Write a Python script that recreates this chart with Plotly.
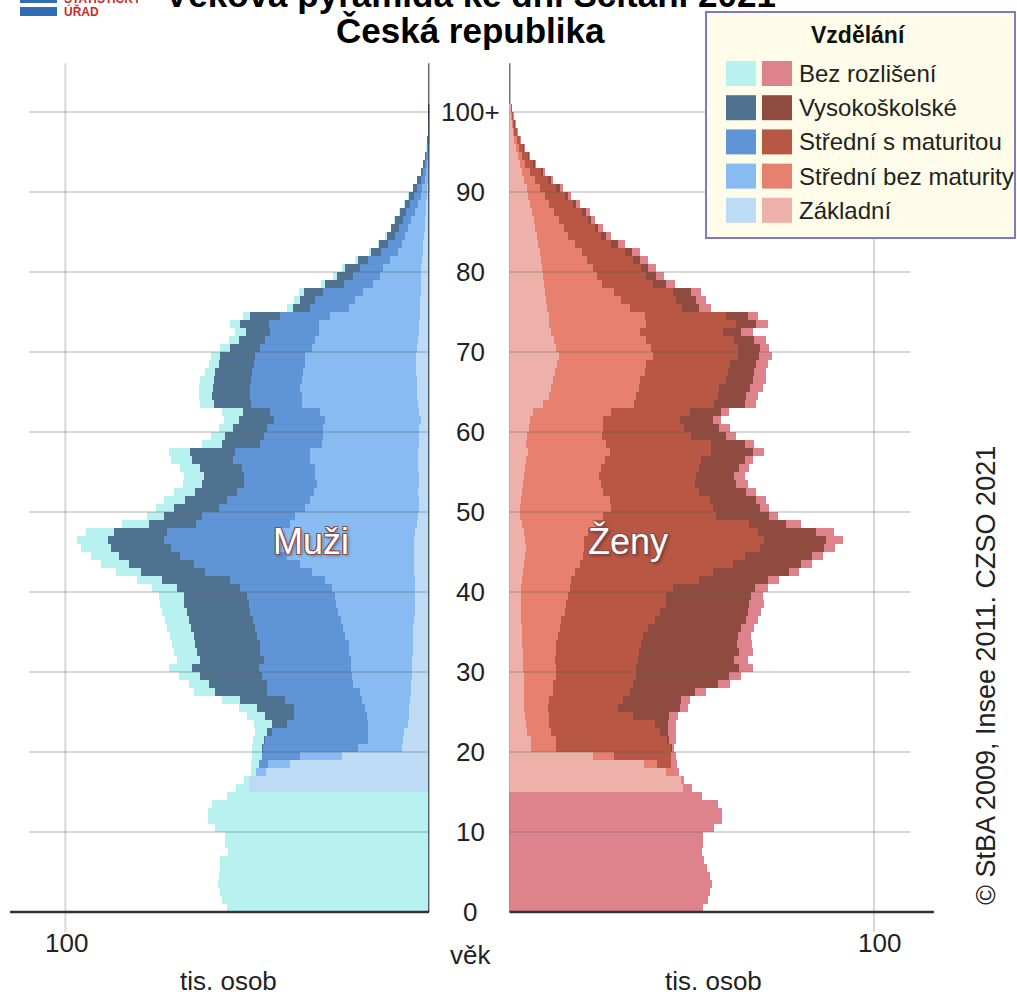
import plotly.graph_objects as go

# ---------------- data (thousands of persons) ----------------
vek = list(range(0, 101))
vek_ticks = [0, 10, 20, 30, 40, 50, 60, 70, 80, 90, 100]
vek_tick_labels = ["0", "10", "20", "30", "40", "50", "60", "70", "80", "90", "100+"]

kategorie = ["Bez rozlišení", "Vysokoškolské", "Střední s maturitou", "Střední bez maturity", "Základní"]

# Men: outer edge of each stacked band (centre -> outward: Základní, SB, SM, VŠ, Bez rozlišení)
muzi_celkem = [
    55.7, 57.0, 57.4, 58.1, 57.7, 57.4, 57.4, 55.3, 56.2, 56.2, 58.8, 60.9, 60.9, 59.7, 55.6,
    53.0, 50.8, 49.0, 49.0, 48.7, 48.7, 48.4, 47.8, 48.3, 50.1, 52.4, 56.9, 64.7, 66.1, 68.8,
    71.6, 69.3, 70.2, 70.6, 71.3, 72.0, 72.7, 73.4, 74.0, 74.3, 76.1, 80.2, 86.2, 90.3, 93.0,
    95.7, 96.7, 94.4, 84.3, 77.5, 75.2, 72.9, 70.2, 67.8, 67.4, 68.4, 71.1, 71.6, 62.4, 60.1,
    57.8, 56.5, 56.9, 62.9, 63.3, 63.3, 62.9, 61.5, 60.6, 60.1, 57.4, 55.1, 53.3, 54.7, 51.2,
    39.1, 37.3, 35.8, 29.8, 26.5, 24.1, 20.4, 16.5, 14.2, 12.2, 10.6, 9.6, 8.3, 6.9, 5.8,
    4.6, 3.5, 2.4, 1.7, 1.1, 0.8, 0.55, 0.35, 0.2, 0.12, 0.1]
muzi_do_vs = [
    0, 0, 0, 0, 0, 0, 0, 0, 0, 0, 0, 0, 0, 0, 0,
    49.6, 49.6, 47.5, 46.9, 46.0, 46.0, 45.3, 44.6, 43.2, 45.1, 47.4, 51.9, 58.8, 60.6, 62.9,
    65.2, 63.1, 63.8, 64.3, 64.7, 65.4, 66.1, 66.7, 67.3, 67.4, 69.3, 73.4, 79.3, 82.6, 85.3,
    87.5, 88.4, 86.6, 77.1, 72.9, 70.2, 67.0, 64.3, 62.4, 61.8, 62.9, 65.2, 65.7, 56.9, 56.0,
    53.8, 52.4, 51.2, 59.2, 59.7, 59.4, 59.2, 58.8, 57.8, 57.4, 54.7, 52.4, 50.5, 51.9, 49.2,
    37.5, 35.5, 34.4, 28.6, 25.3, 23.2, 19.5, 16.1, 13.7, 11.7, 10.4, 9.3, 8.1, 6.7, 5.6,
    4.4, 3.3, 2.3, 1.6, 1.05, 0.75, 0.5, 0.33, 0.19, 0.11, 0.09]
muzi_do_sm = [
    0, 0, 0, 0, 0, 0, 0, 0, 0, 0, 0, 0, 0, 0, 0,
    49.6, 49.6, 47.5, 46.9, 46.0, 45.8, 45.1, 43.2, 39.1, 37.3, 37.3, 39.6, 44.6, 44.6, 46.0,
    46.9, 45.5, 46.4, 46.6, 47.4, 47.8, 48.5, 49.2, 49.6, 50.1, 51.9, 54.7, 61.5, 64.7, 68.4,
    71.1, 72.9, 72.0, 64.2, 62.4, 57.8, 55.6, 52.8, 51.0, 51.0, 51.5, 53.8, 53.3, 46.4, 45.5,
    44.6, 42.8, 43.7, 49.0, 49.4, 49.2, 49.0, 48.7, 48.3, 47.8, 46.4, 45.1, 43.7, 44.1, 41.1,
    32.9, 31.4, 29.3, 23.5, 20.9, 19.0, 16.8, 13.4, 11.3, 9.5, 8.3, 7.2, 6.3, 5.3, 4.2,
    3.3, 2.4, 1.7, 1.1, 0.8, 0.55, 0.4, 0.25, 0.15, 0.08, 0.07]
muzi_do_sb = [
    0, 0, 0, 0, 0, 0, 0, 0, 0, 0, 0, 0, 0, 0, 0,
    49.6, 49.6, 47.5, 44.2, 35.5, 19.5, 16.8, 16.8, 16.8, 17.2, 17.7, 18.6, 19.0, 20.9, 21.3,
    21.6, 21.6, 22.0, 22.2, 23.1, 23.6, 24.3, 25.0, 25.6, 25.9, 26.8, 28.6, 32.3, 35.5, 39.1,
    41.0, 41.9, 41.9, 38.2, 36.8, 34.1, 32.8, 31.8, 30.9, 31.4, 31.4, 32.9, 32.8, 29.5, 29.1,
    29.1, 28.6, 30.0, 35.0, 35.0, 35.5, 35.0, 34.6, 34.1, 34.1, 32.3, 31.4, 30.2, 30.4, 27.3,
    22.0, 20.4, 18.3, 15.4, 13.6, 12.7, 10.8, 8.5, 7.6, 6.7, 5.8, 4.9, 4.0, 3.1, 2.4,
    1.9, 1.2, 0.8, 0.5, 0.3, 0.25, 0.15, 0.1, 0.06, 0.04, 0.03]
muzi_zakladni = [
    0, 0, 0, 0, 0, 0, 0, 0, 0, 0, 0, 0, 0, 0, 0,
    49.6, 49.6, 44.8, 38.2, 24.1, 7.6, 7.2, 7.0, 5.8, 5.5, 5.5, 5.3, 5.1, 5.1, 4.8,
    4.8, 4.8, 4.6, 4.6, 4.4, 4.4, 4.3, 4.0, 4.0, 4.0, 4.0, 4.0, 4.2, 4.2, 4.2,
    4.2, 4.2, 4.0, 3.5, 3.0, 2.8, 2.8, 3.0, 2.8, 2.8, 3.0, 3.0, 3.0, 2.8, 2.8,
    2.8, 2.4, 2.8, 3.0, 3.3, 3.5, 3.5, 3.7, 3.7, 3.7, 3.5, 3.0, 2.8, 2.8, 2.6,
    2.6, 2.5, 2.4, 2.3, 2.2, 2.2, 2.0, 1.8, 1.6, 1.4, 1.2, 1.1, 0.95, 0.8, 0.6,
    0.5, 0.4, 0.25, 0.15, 0.1, 0.08, 0.05, 0.03, 0.02, 0.01, 0.01]

# Women: outer edge of each stacked band
zeny_celkem = [
    53.3, 54.5, 55.2, 55.7, 55.0, 54.2, 53.6, 53.0, 53.3, 53.3, 56.3, 58.4, 58.4, 57.3, 52.9,
    50.3, 48.1, 46.7, 46.2, 45.8, 45.3, 45.8, 45.8, 45.8, 46.3, 49.0, 49.5, 54.1, 60.5, 63.7,
    66.8, 65.5, 66.8, 66.7, 66.4, 67.3, 68.2, 69.1, 70.0, 69.6, 71.0, 74.0, 79.5, 83.0, 86.0,
    89.5, 91.5, 89.0, 80.1, 73.7, 71.4, 70.5, 67.8, 65.5, 64.6, 65.8, 66.8, 70.0, 67.3, 62.3,
    60.5, 58.2, 60.3, 67.8, 68.2, 69.6, 70.5, 70.5, 71.0, 72.1, 71.4, 70.5, 66.8, 71.0, 68.2,
    55.4, 54.1, 52.7, 45.4, 42.6, 40.4, 38.1, 35.8, 31.7, 28.0, 25.8, 23.5, 22.1, 19.4, 17.1,
    14.8, 12.1, 9.8, 7.5, 5.8, 4.3, 3.4, 2.5, 1.8, 1.3, 0.9]
zeny_do_vs = [
    0, 0, 0, 0, 0, 0, 0, 0, 0, 0, 0, 0, 0, 0, 0,
    47.6, 47.1, 45.3, 44.4, 44.4, 44.6, 44.0, 43.6, 43.6, 44.0, 46.8, 47.2, 50.9, 57.3, 60.3,
    63.2, 61.8, 63.2, 62.5, 62.7, 63.7, 65.0, 65.5, 65.9, 66.4, 67.5, 71.0, 76.9, 80.1, 83.0,
    86.5, 87.0, 84.2, 76.0, 71.4, 68.7, 67.8, 65.0, 62.3, 61.8, 63.2, 64.6, 66.8, 64.6, 59.5,
    57.7, 55.9, 58.2, 64.6, 65.0, 66.0, 66.8, 67.3, 67.6, 68.5, 68.7, 67.3, 63.7, 67.8, 65.5,
    52.2, 51.3, 50.0, 43.1, 40.4, 38.1, 35.8, 33.6, 29.9, 26.5, 24.4, 22.6, 21.0, 18.4, 16.2,
    13.9, 11.6, 9.3, 7.0, 5.5, 4.0, 3.1, 2.3, 1.6, 1.1, 0.8]
zeny_do_sm = [
    0, 0, 0, 0, 0, 0, 0, 0, 0, 0, 0, 0, 0, 0, 0,
    47.6, 47.1, 45.3, 44.4, 44.4, 44.4, 43.3, 41.5, 39.9, 34.0, 29.9, 31.2, 33.1, 34.0, 34.7,
    34.9, 35.3, 35.6, 36.3, 36.7, 38.1, 39.9, 41.3, 43.1, 43.1, 44.9, 52.2, 55.9, 61.4, 64.6,
    68.7, 70.0, 68.2, 65.9, 56.8, 55.9, 55.0, 52.2, 50.9, 51.3, 52.1, 52.7, 55.4, 55.4, 50.0,
    48.1, 46.8, 49.5, 56.3, 57.3, 57.7, 59.5, 60.0, 60.5, 62.7, 62.7, 61.8, 58.8, 62.3, 59.5,
    47.5, 45.8, 44.9, 39.5, 37.6, 36.3, 34.0, 31.7, 28.0, 25.3, 23.5, 21.6, 20.1, 17.5, 15.3,
    13.0, 10.7, 8.9, 6.6, 5.2, 3.8, 2.9, 2.1, 1.5, 1.0, 0.7]
zeny_do_sb = [
    0, 0, 0, 0, 0, 0, 0, 0, 0, 0, 0, 0, 0, 0, 0,
    47.6, 47.1, 45.3, 40.7, 28.9, 12.9, 12.9, 11.4, 11.1, 11.0, 10.7, 11.1, 12.1, 12.2, 12.8,
    12.8, 12.5, 12.8, 13.0, 13.4, 13.9, 14.3, 15.3, 15.7, 16.2, 16.6, 17.1, 18.0, 19.4, 20.3,
    20.7, 20.7, 21.6, 23.9, 25.8, 28.0, 27.6, 25.8, 25.3, 24.8, 25.3, 26.2, 27.6, 26.7, 25.6,
    25.8, 25.8, 28.0, 34.4, 34.9, 35.6, 35.8, 37.2, 37.6, 39.6, 39.0, 37.6, 35.8, 37.6, 37.2,
    33.1, 30.8, 28.9, 25.5, 24.2, 23.0, 21.5, 20.0, 18.0, 16.2, 15.0, 13.6, 12.4, 11.0, 9.8,
    8.5, 7.0, 5.8, 4.5, 3.6, 2.7, 2.1, 1.5, 1.1, 0.8, 0.6]
zeny_zakladni = [
    0, 0, 0, 0, 0, 0, 0, 0, 0, 0, 0, 0, 0, 0, 0,
    47.6, 47.1, 43.0, 37.1, 22.9, 6.0, 6.0, 5.0, 4.7, 4.3, 4.0, 4.0, 4.0, 4.0, 4.0,
    3.8, 3.8, 3.8, 3.7, 3.7, 3.5, 3.4, 3.4, 3.4, 3.4, 3.4, 3.7, 3.8, 4.0, 4.3,
    4.6, 4.3, 4.0, 3.7, 3.1, 3.1, 3.4, 3.7, 3.8, 4.0, 4.3, 4.7, 5.2, 4.7, 4.9,
    5.5, 5.8, 6.6, 9.3, 11.0, 11.6, 12.1, 12.5, 13.2, 13.7, 13.0, 12.3, 11.4, 11.1, 11.1,
    10.5, 10.2, 9.8, 9.5, 9.3, 9.0, 8.8, 8.5, 8.0, 7.6, 7.2, 6.8, 6.4, 5.8, 5.3,
    4.8, 4.2, 3.6, 2.9, 2.4, 1.8, 1.4, 1.0, 0.7, 0.5, 0.4]

barvy_muzi = ["#b8f2f0", "#4f7290", "#5f94d6", "#88bbf2", "#bedbf5"]
barvy_zeny = ["#de838b", "#8f4b3f", "#b95745", "#e8806f", "#edb1a9"]

# ---------------- layout geometry ----------------
W, H = 1017, 997
ML, MR, MT, MB = 10, 83, 60, 61
PW, PH = W - ML - MR, H - MT - MB
FONT = "Liberation Sans, Arial, sans-serif"


def px_x(px):
    return (px - ML) / PW


def px_y(py):
    return (H - MB - py) / PH


fig = go.Figure()
y_mid = [a + 0.5 for a in vek]

muzi_sloupce = [muzi_celkem, muzi_do_vs, muzi_do_sm, muzi_do_sb, muzi_zakladni]
zeny_sloupce = [zeny_celkem, zeny_do_vs, zeny_do_sm, zeny_do_sb, zeny_zakladni]

for vals, col, name in zip(muzi_sloupce, barvy_muzi, kategorie):
    fig.add_trace(go.Bar(x=vals, y=y_mid, width=1, orientation="h", name=name,
                         marker=dict(color=col, line=dict(width=0)),
                         xaxis="x", yaxis="y", showlegend=False, hoverinfo="skip"))
for vals, col, name in zip(zeny_sloupce, barvy_zeny, kategorie):
    fig.add_trace(go.Bar(x=vals, y=y_mid, width=1, orientation="h", name=name,
                         marker=dict(color=col, line=dict(width=0)),
                         xaxis="x2", yaxis="y2", showlegend=False, hoverinfo="skip"))

hidden = dict(showgrid=False, zeroline=False, showticklabels=False, showline=False, ticks="")
fig.update_layout(
    width=W, height=H,
    margin=dict(l=ML, r=MR, t=MT, b=MB, pad=0),
    paper_bgcolor="white", plot_bgcolor="rgba(0,0,0,0)",
    barmode="overlay", bargap=0,
    showlegend=False,
    xaxis=dict(domain=[0, 0.4538], range=[115.2, 0], **hidden),
    xaxis2=dict(domain=[0.5404, 1], range=[0, 116.45], **hidden),
    yaxis=dict(domain=[0, 1], range=[-3, 106.5], anchor="x", **hidden),
    yaxis2=dict(domain=[0, 1], range=[-3, 106.5], anchor="x2", **hidden),
    font=dict(family=FONT, color="#222"),
)

shapes = []
grid_col = "rgba(90,90,90,0.24)"
# female centre line (under bars)
shapes.append(dict(type="line", xref="x2", yref="y2", x0=0, x1=0, y0=0, y1=106.1,
                   line=dict(color="#333", width=2), layer="below"))
for t in vek_ticks[1:]:
    shapes.append(dict(type="line", xref="x", yref="y", x0=0, x1=110, y0=t, y1=t,
                       line=dict(color=grid_col, width=2), layer="above"))
    shapes.append(dict(type="line", xref="x2", yref="y2", x0=0, x1=110, y0=t, y1=t,
                       line=dict(color=grid_col, width=2), layer="above"))
shapes.append(dict(type="line", xref="x", yref="y", x0=100, x1=100, y0=-2.5, y1=106.1,
                   line=dict(color=grid_col, width=2), layer="above"))
shapes.append(dict(type="line", xref="x2", yref="y2", x0=100, x1=100, y0=-2.5, y1=106.1,
                   line=dict(color=grid_col, width=2), layer="above"))
# bottom axis lines
shapes.append(dict(type="line", xref="x", yref="y", x0=0, x1=115.2, y0=0, y1=0,
                   line=dict(color="#333", width=2.5), layer="above"))
shapes.append(dict(type="line", xref="x2", yref="y2", x0=0, x1=116.45, y0=0, y1=0,
                   line=dict(color="#333", width=2.5), layer="above"))
# male centre line
shapes.append(dict(type="line", xref="x", yref="y", x0=0, x1=0, y0=0, y1=106.1,
                   line=dict(color="#222", width=2), layer="above"))

# legend box
shapes.append(dict(type="rect", xref="paper", yref="paper",
                   x0=px_x(706), x1=px_x(1015), y0=px_y(238), y1=px_y(12),
                   fillcolor="#fffde9", line=dict(color="#7b7bc8", width=2), layer="above"))
annotations = []
annotations.append(dict(text="<b>Vzdělání</b>", x=px_x(858), y=px_y(35), xref="paper", yref="paper",
                        showarrow=False, xanchor="center", yanchor="middle",
                        font=dict(size=23, color="#111", family=FONT)))
for i, name in enumerate(kategorie):
    cy = 73.5 + 34.2 * i
    shapes.append(dict(type="rect", xref="paper", yref="paper",
                       x0=px_x(726), x1=px_x(756), y0=px_y(cy + 12.5), y1=px_y(cy - 12.5),
                       fillcolor=barvy_muzi[i], line=dict(width=0), layer="above"))
    shapes.append(dict(type="rect", xref="paper", yref="paper",
                       x0=px_x(762), x1=px_x(792), y0=px_y(cy + 12.5), y1=px_y(cy - 12.5),
                       fillcolor=barvy_zeny[i], line=dict(width=0), layer="above"))
    annotations.append(dict(text=name, x=px_x(797), y=px_y(cy), xref="paper", yref="paper",
                            showarrow=False, xanchor="left", yanchor="middle",
                            font=dict(size=24, color="#222", family=FONT)))

# logo
shapes.append(dict(type="rect", xref="paper", yref="paper", x0=px_x(20), x1=px_x(57),
                   y0=px_y(3), y1=px_y(-6), fillcolor="#2f6db5", line=dict(width=0), layer="above"))
shapes.append(dict(type="rect", xref="paper", yref="paper", x0=px_x(20), x1=px_x(57),
                   y0=px_y(16), y1=px_y(7), fillcolor="#2f6db5", line=dict(width=0), layer="above"))
annotations.append(dict(text="<b>ÚŘAD</b>", x=px_x(62), y=px_y(11.5), xref="paper", yref="paper",
                        showarrow=False, xanchor="left", yanchor="middle",
                        font=dict(size=12, color="#cc2a2a", family=FONT)))
annotations.append(dict(text="<b>STATISTICKÝ</b>", x=px_x(62), y=px_y(-1.5), xref="paper", yref="paper",
                        showarrow=False, xanchor="left", yanchor="middle",
                        font=dict(size=12, color="#cc2a2a", family=FONT)))

# titles (first line is cut by the top edge, as in the reference)
annotations.append(dict(text="<b>Věková pyramida ke dni Sčítání 2021</b>", x=px_x(470), y=px_y(-5),
                        xref="paper", yref="paper", showarrow=False, xanchor="center", yanchor="middle",
                        font=dict(size=35, color="#000", family=FONT)))
annotations.append(dict(text="<b>Česká republika</b>", x=px_x(470), y=px_y(30),
                        xref="paper", yref="paper", showarrow=False, xanchor="center", yanchor="middle",
                        font=dict(size=35, color="#000", family=FONT)))

# age tick labels in the middle
for t, lab in zip(vek_ticks, vek_tick_labels):
    annotations.append(dict(text=lab, x=px_x(470), y=t, xref="paper", yref="y",
                            showarrow=False, xanchor="center", yanchor="middle",
                            font=dict(size=26, color="#222", family=FONT)))

# bottom labels
for txt, xx, yy in [("100", 66, 943), ("100", 879, 943), ("věk", 470, 955),
                    ("tis. osob", 228, 981), ("tis. osob", 713, 981)]:
    annotations.append(dict(text=txt, x=px_x(xx), y=px_y(yy), xref="paper", yref="paper",
                            showarrow=False, xanchor="center", yanchor="middle",
                            font=dict(size=26, color="#222", family=FONT)))

# copyright
annotations.append(dict(text="© StBA 2009, Insee 2011. CZSO 2021", x=px_x(986), y=px_y(676),
                        xref="paper", yref="paper", showarrow=False, textangle=-90,
                        xanchor="center", yanchor="middle",
                        font=dict(size=27, color="#222", family=FONT)))

# sex labels
outline = ("#8b4a4a 1px 1px 0px, #8b4a4a -1px -1px 0px, #8b4a4a 1px -1px 0px, "
           "#8b4a4a -1px 1px 0px, rgba(0,0,0,0.35) 2px 2px 3px")
for txt, xx in [("Muži", 311), ("Ženy", 628)]:
    annotations.append(dict(text=txt, x=px_x(xx), y=px_y(541), xref="paper", yref="paper",
                            showarrow=False, xanchor="center", yanchor="middle",
                            font=dict(size=36, color="white", family=FONT, shadow=outline)))

fig.update_layout(shapes=shapes, annotations=annotations)

fig.write_html("out.html", config={"displayModeBar": False},
               post_script="document.body.style.margin='0';document.body.style.overflow='hidden';")
